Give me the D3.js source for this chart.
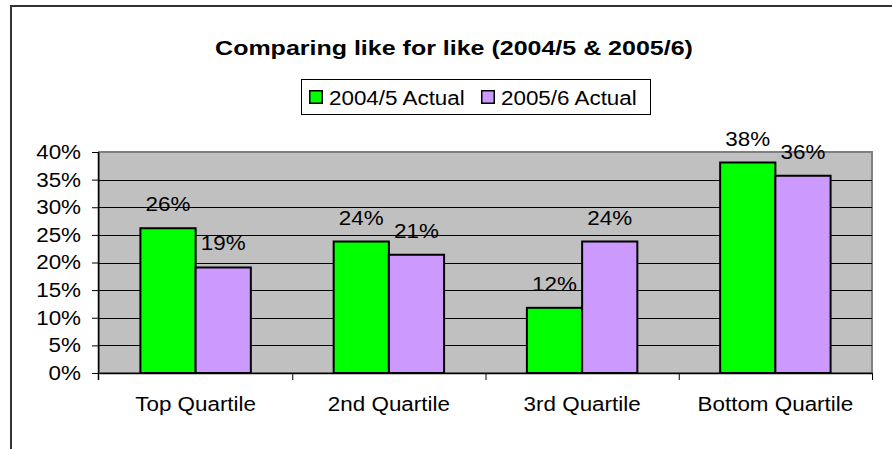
<!DOCTYPE html>
<html>
<head>
<meta charset="utf-8">
<script src="https://cdn.jsdelivr.net/npm/d3@7"></script>
<style>
  body { margin: 0; background: #fff; }
  svg { display: block; font-family: "Liberation Sans", Arial, sans-serif; }
</style>
</head>
<body>
<div id="chart"></div>
<script>
// data
const categories = ['Top Quartile', '2nd Quartile', '3rd Quartile', 'Bottom Quartile'];
const seriesNames = ['2004/5 Actual', '2005/6 Actual'];
const actual0405 = [0.262, 0.238, 0.118, 0.381];
const actual0506 = [0.191, 0.214, 0.238, 0.357];
const yTicks = [0, 0.05, 0.10, 0.15, 0.20, 0.25, 0.30, 0.35, 0.40];

const colors = { '2004/5 Actual': '#00ff00', '2005/6 Actual': '#cc99ff' };
const seriesValues = { '2004/5 Actual': actual0405, '2005/6 Actual': actual0506 };

const W = 892, H = 449;
const MARGIN = { TOP: 152, BOTTOM: 76, LEFT: 99, RIGHT: 20 };
const PLOT_W = W - MARGIN.LEFT - MARGIN.RIGHT;   // 773
const PLOT_H = H - MARGIN.TOP - MARGIN.BOTTOM;   // 221
const FONT = 20;
const STRETCH = 1.12;

// excel text is wider than the font we have, so stretch glyphs a bit
function stretch(sel, k) {
    sel.each(function () {
        const w = this.getComputedTextLength();
        d3.select(this)
            .attr('textLength', w * k)
            .attr('lengthAdjust', 'spacingAndGlyphs');
    });
}

const svg = d3.select('#chart')
    .append('svg')
    .attr('width', W)
    .attr('height', H);

// outer chart frame (runs off the right and bottom)
svg.append('rect')
    .attr('x', 11).attr('y', 6)
    .attr('width', 1000).attr('height', 600)
    .attr('fill', 'none')
    .attr('stroke', '#333')
    .attr('stroke-width', 2);

// title
const title = svg.append('text')
    .attr('x', 454)
    .attr('y', 55)
    .attr('text-anchor', 'middle')
    .attr('font-size', 21)
    .attr('font-weight', 'bold')
    .text('Comparing like for like (2004/5 & 2005/6)');
stretch(title, 1.19);

// legend
const legend = svg.append('g');
legend.append('rect')
    .attr('x', 301.5).attr('y', 79.5)
    .attr('width', 349).attr('height', 35)
    .attr('fill', '#fff')
    .attr('stroke', '#000')
    .attr('stroke-width', 1);

const legendX = [309, 481];
seriesNames.forEach((s, i) => {
    legend.append('rect')
        .attr('x', legendX[i] + 0.75).attr('y', 90.75)
        .attr('width', 12.5).attr('height', 12.5)
        .attr('fill', colors[s])
        .attr('stroke', '#000')
        .attr('stroke-width', 1.5);
    const t = legend.append('text')
        .attr('x', legendX[i] + 20)
        .attr('y', 104.5)
        .attr('font-size', FONT)
        .text(s);
    stretch(t, STRETCH);
});

const g = svg.append('g')
    .attr('transform', `translate(${MARGIN.LEFT}, ${MARGIN.TOP})`);

const x0 = d3.scaleBand()
    .domain(categories)
    .range([0, PLOT_W])
    .padding(0);

const x1 = d3.scaleBand()
    .domain(seriesNames)
    .range([0, x0.bandwidth()])
    .paddingInner(0)
    .paddingOuter(0.75);

const y = d3.scaleLinear()
    .domain([0, 0.4])
    .range([PLOT_H, 0]);

// plot area
g.append('rect')
    .attr('x', 0).attr('y', 0)
    .attr('width', PLOT_W).attr('height', PLOT_H)
    .attr('fill', '#c0c0c0')
    .attr('stroke', '#808080')
    .attr('stroke-width', 2);

// gridlines
g.selectAll('line.grid')
    .data(yTicks.filter(d => d > 0 && d < 0.4))
    .enter()
    .append('line')
    .attr('class', 'grid')
    .attr('x1', 0).attr('x2', PLOT_W)
    .attr('y1', d => Math.round(y(d)) + 0.5)
    .attr('y2', d => Math.round(y(d)) + 0.5)
    .attr('stroke', '#000')
    .attr('stroke-width', 1);

// bars
const groups = g.selectAll('g.cat')
    .data(categories)
    .enter()
    .append('g')
    .attr('class', 'cat')
    .attr('transform', d => `translate(${x0(d)}, 0)`);

const barData = (c, i) => seriesNames.map(s => ({ series: s, value: seriesValues[s][i] }));

groups.selectAll('rect.bar')
    .data(barData)
    .enter()
    .append('rect')
    .attr('class', 'bar')
    .attr('x', d => x1(d.series))
    .attr('y', d => y(d.value))
    .attr('width', x1.bandwidth())
    .attr('height', d => PLOT_H - y(d.value))
    .attr('fill', d => colors[d.series])
    .attr('stroke', '#000')
    .attr('stroke-width', 2);

const labels = groups.selectAll('text.val')
    .data(barData)
    .enter()
    .append('text')
    .attr('class', 'val')
    .attr('x', d => x1(d.series) + x1.bandwidth() / 2)
    .attr('y', d => y(d.value) - 17)
    .attr('text-anchor', 'middle')
    .attr('font-size', FONT)
    .text(d => d3.format('.0%')(d.value));
stretch(labels, STRETCH);

// y axis
const yAxisGroup = g.append('g')
    .call(d3.axisLeft(y)
        .tickValues(yTicks)
        .tickFormat(d3.format('.0%'))
        .tickSize(7)
        .tickPadding(11));
yAxisGroup.selectAll('text').attr('font-size', FONT).attr('fill', '#000');
yAxisGroup.select('.domain').attr('d', `M-0.5,0V${PLOT_H + 7}`).attr('stroke-width', 1.5);
stretch(yAxisGroup.selectAll('text'), STRETCH);

// x axis: boundary ticks
const xEdge = d3.scaleLinear().domain([0, categories.length]).range([0, PLOT_W]);
g.append('g')
    .attr('transform', `translate(0, ${PLOT_H})`)
    .call(d3.axisBottom(xEdge)
        .tickValues(d3.range(1, categories.length + 1))
        .tickFormat('')
        .tickSize(7)
        .tickSizeOuter(0))
    .select('.domain').attr('stroke-width', 1.5);

// x axis: category labels
const xLabelGroup = g.append('g')
    .attr('transform', `translate(0, ${PLOT_H})`)
    .call(d3.axisBottom(x0).tickSize(0).tickPadding(24));
xLabelGroup.select('.domain').remove();
xLabelGroup.selectAll('text').attr('font-size', FONT).attr('fill', '#000');
stretch(xLabelGroup.selectAll('text'), STRETCH);
</script>
</body>
</html>
